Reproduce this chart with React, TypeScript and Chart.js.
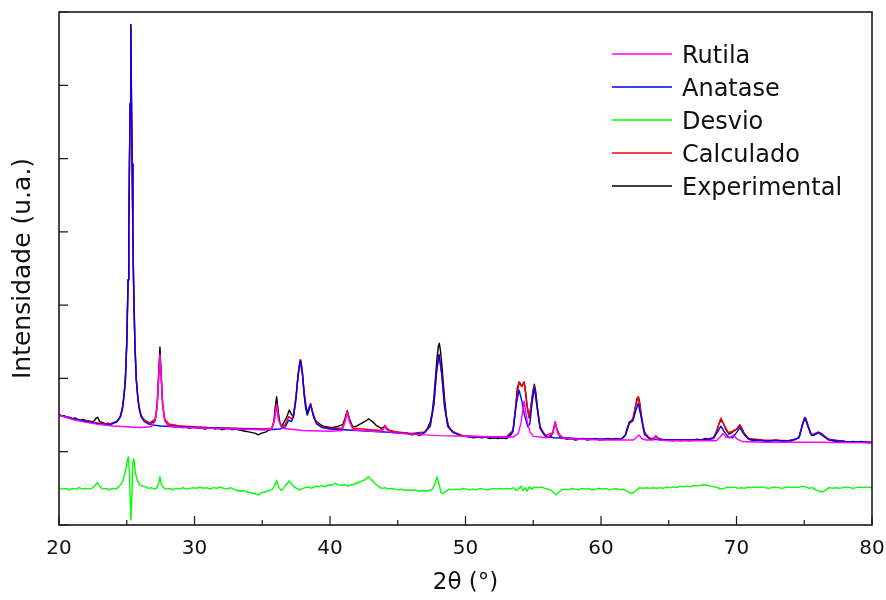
import React, { useEffect, useRef } from "react";
import { Chart, registerables } from "chart.js";

Chart.register(...registerables);

type P = [number, number];

const seriesLabels = ["Rutila", "Anatase", "Desvio", "Calculado", "Experimental"];
const seriesColors = ["#ff00ff", "#0000ff", "#00ff00", "#ff0000", "#000000"];
const xAxisTitle = "2θ (°)";
const yAxisTitle = "Intensidade (u.a.)";
const xRange = [20, 80];
const xStep = 10;
const yRange = [0, 7];
const yStep = 1;

const rutila: P[] = [
  [20, 1.5], [21, 1.44], [22, 1.4], [23, 1.37], [24, 1.35], [25, 1.34], [26, 1.33], [26.8, 1.34],
  [27.1, 1.42], [27.25, 1.62], [27.35, 1.98], [27.45, 2.32], [27.55, 1.98], [27.65, 1.62], [27.8, 1.42],
  [28.1, 1.35], [29, 1.33], [31, 1.32], [33, 1.31], [35, 1.3], [35.7, 1.31], [35.9, 1.43], [36.06, 1.64],
  [36.2, 1.43], [36.45, 1.32], [38, 1.29], [40, 1.28], [40.9, 1.29], [41.1, 1.4], [41.27, 1.53],
  [41.45, 1.4], [41.7, 1.3], [43.7, 1.27], [43.9, 1.3], [44.05, 1.34], [44.2, 1.3], [44.5, 1.26],
  [46, 1.24], [48, 1.22], [50, 1.21], [52, 1.2], [53.5, 1.2], [53.9, 1.25], [54.1, 1.4], [54.33, 1.69],
  [54.55, 1.42], [54.75, 1.27], [55.0, 1.21], [56.0, 1.19], [56.45, 1.25], [56.63, 1.4], [56.8, 1.25],
  [57.2, 1.18], [60, 1.16], [62.4, 1.16], [62.65, 1.2], [62.8, 1.23], [63.0, 1.18], [63.3, 1.16],
  [63.85, 1.16], [64.05, 1.21], [64.25, 1.16], [65, 1.15], [68.5, 1.15], [68.85, 1.21], [69.0, 1.25],
  [69.2, 1.2], [69.5, 1.19], [69.8, 1.23], [70.0, 1.18], [70.4, 1.14], [72, 1.13], [76, 1.13], [80, 1.12],
];

const anatase: P[] = [
  [20, 1.5], [21, 1.45], [22, 1.41], [23, 1.38], [23.8, 1.37], [24.3, 1.41], [24.55, 1.48], [24.7, 1.6],
  [24.8, 1.76], [24.9, 1.98], [25.0, 2.47], [25.1, 3.34], [25.15, 4.0], [25.2, 4.92], [25.25, 5.74],
  [25.3, 6.82], [25.35, 5.74], [25.4, 4.92], [25.45, 4.0], [25.5, 3.34], [25.6, 2.47], [25.7, 1.98],
  [25.8, 1.76], [25.9, 1.6], [26.05, 1.48], [26.3, 1.41], [26.7, 1.37], [27.5, 1.35], [28.5, 1.34],
  [30, 1.33], [32, 1.32], [34, 1.31], [35.5, 1.3], [36.3, 1.31], [36.7, 1.34], [36.95, 1.43],
  [37.15, 1.41], [37.3, 1.47], [37.5, 1.75], [37.65, 2.05], [37.8, 2.24], [37.95, 2.08], [38.1, 1.78],
  [38.3, 1.52], [38.4, 1.56], [38.57, 1.64], [38.75, 1.5], [39.0, 1.38], [39.4, 1.33], [40, 1.31],
  [42, 1.29], [44, 1.27], [46, 1.24], [47.0, 1.26], [47.4, 1.35], [47.67, 1.65], [47.87, 2.1],
  [48.05, 2.32], [48.25, 2.05], [48.45, 1.62], [48.7, 1.34], [49.1, 1.26], [49.8, 1.21], [51, 1.2],
  [53, 1.19], [53.5, 1.27], [53.75, 1.65], [53.95, 1.84], [54.15, 1.7], [54.35, 1.5], [54.6, 1.34],
  [54.75, 1.38], [54.9, 1.65], [55.08, 1.88], [55.3, 1.58], [55.5, 1.32], [55.9, 1.21], [56.5, 1.19],
  [58, 1.18], [60, 1.17], [61.5, 1.17], [61.8, 1.22], [62.1, 1.39], [62.35, 1.42], [62.55, 1.55],
  [62.75, 1.66], [62.95, 1.48], [63.2, 1.24], [63.6, 1.17], [65, 1.16], [67.5, 1.16], [68.3, 1.18],
  [68.6, 1.27], [68.85, 1.35], [69.1, 1.27], [69.4, 1.2], [69.7, 1.19], [70.0, 1.26], [70.25, 1.33],
  [70.5, 1.25], [70.9, 1.17], [72, 1.15], [74, 1.15], [74.6, 1.19], [74.85, 1.35], [75.05, 1.46],
  [75.3, 1.33], [75.55, 1.22], [75.8, 1.24], [76.05, 1.26], [76.35, 1.22], [76.8, 1.16], [78, 1.14],
  [80, 1.13],
];

const calculado: P[] = [
  [20, 1.5], [21, 1.45], [22, 1.41], [23, 1.39], [23.8, 1.38], [24.3, 1.42], [24.55, 1.49], [24.7, 1.61],
  [24.8, 1.77], [24.9, 1.99], [25.0, 2.48], [25.1, 3.35], [25.15, 4.01], [25.2, 4.93], [25.25, 5.75],
  [25.3, 6.8], [25.35, 5.75], [25.4, 4.93], [25.45, 4.01], [25.5, 3.35], [25.6, 2.48], [25.7, 1.99],
  [25.8, 1.78], [25.9, 1.62], [26.05, 1.5], [26.3, 1.43], [26.7, 1.39], [27.1, 1.45], [27.25, 1.65],
  [27.35, 2.0], [27.45, 2.33], [27.55, 2.0], [27.65, 1.65], [27.8, 1.45], [28.1, 1.38], [29, 1.35],
  [31, 1.33], [33, 1.32], [35, 1.31], [35.7, 1.32], [35.9, 1.44], [36.06, 1.65], [36.2, 1.45],
  [36.45, 1.34], [36.7, 1.37], [36.95, 1.48], [37.15, 1.45], [37.3, 1.5], [37.5, 1.77], [37.65, 2.07],
  [37.8, 2.26], [37.95, 2.1], [38.1, 1.8], [38.3, 1.54], [38.4, 1.58], [38.57, 1.66], [38.75, 1.52],
  [39.0, 1.4], [39.4, 1.34], [40, 1.32], [40.9, 1.32], [41.1, 1.42], [41.27, 1.55], [41.45, 1.42],
  [41.7, 1.32], [43.7, 1.29], [43.9, 1.32], [44.05, 1.36], [44.2, 1.32], [44.5, 1.28], [46, 1.25],
  [47.0, 1.27], [47.4, 1.36], [47.67, 1.66], [47.87, 2.11], [48.05, 2.33], [48.25, 2.06], [48.45, 1.63],
  [48.7, 1.35], [49.1, 1.27], [49.8, 1.22], [51, 1.21], [53, 1.2], [53.5, 1.29], [53.75, 1.7],
  [53.95, 1.95], [54.15, 1.89], [54.33, 1.95], [54.55, 1.62], [54.7, 1.47], [54.9, 1.72], [55.08, 1.9],
  [55.3, 1.6], [55.5, 1.34], [55.9, 1.22], [56.45, 1.26], [56.63, 1.41], [56.8, 1.26], [57.2, 1.19],
  [58, 1.18], [60, 1.17], [61.5, 1.17], [61.8, 1.23], [62.1, 1.4], [62.35, 1.45], [62.55, 1.63],
  [62.75, 1.75], [62.95, 1.53], [63.2, 1.27], [63.6, 1.18], [63.85, 1.17], [64.05, 1.22], [64.25, 1.17],
  [65, 1.16], [67.5, 1.16], [68.3, 1.19], [68.6, 1.32], [68.85, 1.46], [69.1, 1.36], [69.4, 1.26],
  [69.7, 1.28], [70.0, 1.31], [70.25, 1.37], [70.5, 1.27], [70.9, 1.18], [72, 1.16], [74, 1.15],
  [74.6, 1.19], [74.85, 1.36], [75.05, 1.47], [75.3, 1.34], [75.55, 1.23], [75.8, 1.25], [76.05, 1.27],
  [76.35, 1.23], [76.8, 1.17], [78, 1.14], [80, 1.13],
];

const experimental: P[] = [
  [20, 1.51], [20.2, 1.49], [20.4, 1.49], [20.6, 1.47], [20.8, 1.47], [21.0, 1.45], [21.2, 1.46],
  [21.4, 1.44], [21.6, 1.43], [21.8, 1.44], [22.0, 1.42], [22.2, 1.42], [22.4, 1.41], [22.6, 1.42],
  [22.75, 1.46], [22.85, 1.47], [23.0, 1.41], [23.2, 1.4], [23.4, 1.38], [23.6, 1.39], [23.8, 1.38],
  [24.0, 1.39], [24.2, 1.4], [24.35, 1.43], [24.5, 1.47], [24.6, 1.54], [24.7, 1.63], [24.8, 1.78],
  [24.9, 2.0], [25.0, 2.49], [25.1, 3.35], [25.15, 4.01], [25.2, 4.93], [25.25, 5.76], [25.3, 6.83],
  [25.35, 5.76], [25.4, 4.93], [25.45, 4.01], [25.5, 3.36], [25.6, 2.5], [25.7, 2.01], [25.8, 1.79],
  [25.9, 1.62], [26.05, 1.5], [26.2, 1.45], [26.4, 1.42], [26.6, 1.4], [26.8, 1.39], [27.0, 1.41],
  [27.15, 1.47], [27.25, 1.66], [27.35, 2.05], [27.45, 2.43], [27.55, 2.02], [27.65, 1.64], [27.8, 1.44],
  [28.0, 1.37], [28.2, 1.36], [28.4, 1.35], [28.6, 1.36], [28.8, 1.34], [29.0, 1.35], [29.2, 1.33],
  [29.4, 1.34], [29.6, 1.32], [29.8, 1.33], [30.0, 1.34], [30.25, 1.32], [30.5, 1.33], [30.75, 1.31],
  [31.0, 1.32], [31.25, 1.33], [31.5, 1.31], [31.75, 1.32], [32.0, 1.3], [32.25, 1.31], [32.5, 1.32],
  [32.75, 1.3], [33.0, 1.31], [33.25, 1.3], [33.5, 1.29], [33.75, 1.28], [34.0, 1.27], [34.25, 1.26],
  [34.5, 1.25], [34.7, 1.23], [34.9, 1.25], [35.1, 1.26], [35.3, 1.27], [35.5, 1.3], [35.7, 1.31],
  [35.85, 1.4], [35.95, 1.6], [36.06, 1.75], [36.18, 1.55], [36.3, 1.39], [36.45, 1.35], [36.6, 1.4],
  [36.8, 1.47], [37.0, 1.57], [37.15, 1.51], [37.3, 1.48], [37.45, 1.66], [37.6, 1.95], [37.72, 2.15],
  [37.84, 2.25], [37.96, 2.1], [38.08, 1.8], [38.2, 1.6], [38.33, 1.5], [38.45, 1.57], [38.57, 1.65],
  [38.7, 1.55], [38.82, 1.46], [39.0, 1.41], [39.15, 1.39], [39.3, 1.37], [39.5, 1.35], [39.75, 1.34],
  [40.0, 1.33], [40.25, 1.33], [40.5, 1.34], [40.75, 1.36], [40.95, 1.37], [41.1, 1.45], [41.27, 1.56],
  [41.45, 1.44], [41.65, 1.35], [41.85, 1.34], [42.05, 1.36], [42.25, 1.38], [42.45, 1.4], [42.65, 1.42],
  [42.85, 1.45], [43.0, 1.43], [43.2, 1.4], [43.4, 1.36], [43.6, 1.34], [43.8, 1.32], [44.0, 1.34],
  [44.15, 1.33], [44.35, 1.29], [44.6, 1.28], [44.85, 1.27], [45.1, 1.26], [45.35, 1.25], [45.6, 1.26],
  [45.85, 1.24], [46.1, 1.23], [46.35, 1.24], [46.6, 1.22], [46.85, 1.24], [47.0, 1.27], [47.2, 1.32],
  [47.4, 1.41], [47.55, 1.55], [47.67, 1.75], [47.8, 2.05], [47.9, 2.28], [48.0, 2.44], [48.07, 2.48],
  [48.15, 2.38], [48.27, 2.16], [48.37, 1.92], [48.46, 1.71], [48.6, 1.48], [48.73, 1.36], [48.9, 1.3],
  [49.1, 1.27], [49.4, 1.24], [49.7, 1.22], [50.0, 1.21], [50.3, 1.2], [50.6, 1.19], [50.9, 1.2],
  [51.2, 1.19], [51.5, 1.2], [51.8, 1.18], [52.1, 1.19], [52.4, 1.18], [52.7, 1.19], [53.0, 1.18],
  [53.2, 1.2], [53.4, 1.24], [53.55, 1.34], [53.7, 1.6], [53.82, 1.87], [53.97, 1.95], [54.16, 1.89],
  [54.33, 1.95], [54.45, 1.8], [54.55, 1.62], [54.7, 1.46], [54.82, 1.58], [54.95, 1.8], [55.08, 1.92],
  [55.2, 1.8], [55.32, 1.58], [55.5, 1.35], [55.7, 1.26], [55.9, 1.22], [56.1, 1.2], [56.3, 1.21],
  [56.45, 1.26], [56.6, 1.4], [56.75, 1.31], [56.95, 1.21], [57.2, 1.19], [57.5, 1.17], [57.8, 1.18],
  [58.1, 1.16], [58.4, 1.17], [58.7, 1.18], [59.0, 1.16], [59.3, 1.17], [59.6, 1.18], [59.9, 1.16],
  [60.2, 1.17], [60.5, 1.18], [60.8, 1.17], [61.1, 1.18], [61.4, 1.17], [61.6, 1.19], [61.8, 1.23],
  [61.95, 1.33], [62.1, 1.41], [62.25, 1.42], [62.4, 1.47], [62.55, 1.62], [62.65, 1.72], [62.75, 1.75],
  [62.85, 1.68], [62.95, 1.53], [63.1, 1.35], [63.25, 1.25], [63.45, 1.2], [63.7, 1.18], [63.9, 1.18],
  [64.05, 1.21], [64.2, 1.19], [64.4, 1.17], [64.7, 1.16], [65.0, 1.16], [65.3, 1.15], [65.6, 1.16],
  [65.9, 1.15], [66.2, 1.16], [66.5, 1.15], [66.8, 1.16], [67.1, 1.17], [67.4, 1.16], [67.7, 1.18],
  [68.0, 1.17], [68.3, 1.19], [68.5, 1.25], [68.7, 1.38], [68.85, 1.43], [69.0, 1.4], [69.2, 1.31],
  [69.45, 1.24], [69.65, 1.26], [69.85, 1.29], [70.05, 1.31], [70.25, 1.36], [70.4, 1.32], [70.6, 1.23],
  [70.85, 1.18], [71.1, 1.16], [71.4, 1.15], [71.7, 1.16], [72.0, 1.15], [72.3, 1.14], [72.6, 1.15],
  [72.9, 1.16], [73.2, 1.15], [73.5, 1.14], [73.8, 1.15], [74.1, 1.16], [74.4, 1.17], [74.65, 1.21],
  [74.85, 1.36], [75.0, 1.45], [75.1, 1.46], [75.25, 1.38], [75.45, 1.25], [75.65, 1.22], [75.85, 1.24],
  [76.05, 1.26], [76.25, 1.25], [76.5, 1.21], [76.8, 1.17], [77.1, 1.15], [77.4, 1.14], [77.7, 1.15],
  [78.0, 1.14], [78.3, 1.13], [78.6, 1.14], [78.9, 1.13], [79.2, 1.14], [79.5, 1.13], [79.8, 1.12],
  [80.0, 1.13],
];

const desvio: P[] = [
  [20, 0.5], [20.25, 0.49], [20.5, 0.5], [20.75, 0.48], [21.0, 0.5], [21.25, 0.49], [21.5, 0.51],
  [21.75, 0.49], [22.0, 0.5], [22.25, 0.49], [22.5, 0.51], [22.7, 0.55], [22.85, 0.58], [23.0, 0.53],
  [23.2, 0.49], [23.45, 0.5], [23.7, 0.48], [23.95, 0.5], [24.2, 0.49], [24.4, 0.52], [24.6, 0.56],
  [24.75, 0.62], [24.9, 0.74], [25.05, 0.88], [25.12, 0.93], [25.2, 0.7], [25.3, 0.07], [25.38, 0.4],
  [25.45, 0.85], [25.52, 0.9], [25.62, 0.75], [25.72, 0.64], [25.85, 0.58], [26.0, 0.54], [26.2, 0.53],
  [26.4, 0.52], [26.6, 0.5], [26.8, 0.51], [27.0, 0.49], [27.2, 0.5], [27.35, 0.56], [27.45, 0.66],
  [27.55, 0.55], [27.7, 0.51], [27.9, 0.49], [28.15, 0.5], [28.4, 0.48], [28.65, 0.5], [28.9, 0.49],
  [29.15, 0.51], [29.4, 0.49], [29.65, 0.5], [29.9, 0.51], [30.15, 0.5], [30.4, 0.52], [30.65, 0.5],
  [30.9, 0.51], [31.15, 0.49], [31.4, 0.51], [31.65, 0.5], [31.9, 0.52], [32.15, 0.5], [32.4, 0.49],
  [32.65, 0.51], [32.9, 0.49], [33.15, 0.47], [33.4, 0.46], [33.65, 0.47], [33.9, 0.45], [34.15, 0.44],
  [34.4, 0.43], [34.7, 0.41], [34.95, 0.44], [35.2, 0.45], [35.45, 0.47], [35.7, 0.48], [35.9, 0.53],
  [36.06, 0.61], [36.2, 0.52], [36.4, 0.47], [36.6, 0.51], [36.8, 0.56], [37.0, 0.6], [37.2, 0.55],
  [37.45, 0.51], [37.7, 0.48], [37.9, 0.49], [38.15, 0.51], [38.4, 0.52], [38.65, 0.5], [38.9, 0.53],
  [39.15, 0.52], [39.4, 0.54], [39.65, 0.52], [39.9, 0.55], [40.15, 0.54], [40.35, 0.57], [40.6, 0.55],
  [40.85, 0.54], [41.1, 0.55], [41.35, 0.53], [41.6, 0.55], [41.85, 0.56], [42.1, 0.58], [42.35, 0.6],
  [42.6, 0.62], [42.85, 0.66], [43.05, 0.62], [43.3, 0.57], [43.55, 0.53], [43.8, 0.5], [44.05, 0.51],
  [44.3, 0.49], [44.55, 0.5], [44.8, 0.49], [45.05, 0.48], [45.3, 0.49], [45.55, 0.47], [45.8, 0.48],
  [46.05, 0.47], [46.3, 0.48], [46.55, 0.46], [46.8, 0.47], [47.05, 0.46], [47.3, 0.47], [47.55, 0.49],
  [47.75, 0.56], [47.9, 0.66], [48.05, 0.55], [48.2, 0.44], [48.35, 0.43], [48.55, 0.46], [48.8, 0.49],
  [49.05, 0.48], [49.3, 0.49], [49.55, 0.48], [49.8, 0.5], [50.05, 0.49], [50.3, 0.48], [50.55, 0.49],
  [50.8, 0.48], [51.05, 0.5], [51.3, 0.49], [51.55, 0.48], [51.8, 0.49], [52.05, 0.5], [52.3, 0.49],
  [52.55, 0.5], [52.8, 0.49], [53.05, 0.5], [53.3, 0.49], [53.55, 0.51], [53.75, 0.47], [53.95, 0.5],
  [54.1, 0.53], [54.25, 0.47], [54.4, 0.51], [54.55, 0.46], [54.7, 0.52], [54.9, 0.49], [55.1, 0.52],
  [55.35, 0.51], [55.6, 0.52], [55.85, 0.5], [56.1, 0.49], [56.35, 0.47], [56.55, 0.43], [56.7, 0.41],
  [56.9, 0.45], [57.1, 0.48], [57.35, 0.49], [57.6, 0.48], [57.85, 0.5], [58.1, 0.49], [58.35, 0.48],
  [58.6, 0.5], [58.85, 0.49], [59.1, 0.5], [59.35, 0.48], [59.6, 0.49], [59.85, 0.5], [60.1, 0.49],
  [60.35, 0.5], [60.6, 0.48], [60.85, 0.49], [61.1, 0.5], [61.35, 0.48], [61.6, 0.49], [61.85, 0.47],
  [62.05, 0.45], [62.25, 0.43], [62.45, 0.45], [62.65, 0.48], [62.85, 0.51], [63.1, 0.5], [63.35, 0.51],
  [63.6, 0.5], [63.85, 0.51], [64.1, 0.5], [64.35, 0.51], [64.6, 0.5], [64.85, 0.52], [65.1, 0.51],
  [65.35, 0.52], [65.6, 0.51], [65.85, 0.53], [66.1, 0.52], [66.35, 0.53], [66.6, 0.52], [66.85, 0.54],
  [67.1, 0.53], [67.35, 0.54], [67.6, 0.55], [67.85, 0.54], [68.1, 0.53], [68.35, 0.52], [68.6, 0.51],
  [68.85, 0.49], [69.1, 0.5], [69.35, 0.52], [69.6, 0.51], [69.85, 0.52], [70.1, 0.5], [70.35, 0.51],
  [70.6, 0.5], [70.85, 0.52], [71.1, 0.51], [71.35, 0.52], [71.6, 0.51], [71.85, 0.52], [72.1, 0.51],
  [72.35, 0.5], [72.6, 0.51], [72.85, 0.52], [73.1, 0.51], [73.35, 0.5], [73.6, 0.51], [73.85, 0.52],
  [74.1, 0.51], [74.35, 0.52], [74.6, 0.51], [74.85, 0.53], [75.1, 0.52], [75.35, 0.5], [75.6, 0.51],
  [75.85, 0.48], [76.1, 0.46], [76.35, 0.45], [76.6, 0.48], [76.85, 0.51], [77.1, 0.5], [77.35, 0.51],
  [77.6, 0.5], [77.85, 0.51], [78.1, 0.52], [78.35, 0.51], [78.6, 0.5], [78.85, 0.51], [79.1, 0.52],
  [79.35, 0.51], [79.6, 0.52], [79.85, 0.51], [80, 0.52],
];

const seriesData: P[][] = [rutila, anatase, desvio, calculado, experimental];

const FONT = "'DejaVu Sans', Verdana, sans-serif";

const decorPlugin = {
  id: "decor",
  afterDatasetsDraw(chart: any) {
    const { ctx, chartArea: a, scales } = chart;
    const xs = scales.x;
    const ys = scales.y;
    ctx.save();
    ctx.strokeStyle = "#1a1a1a";
    ctx.lineWidth = 1.6;
    ctx.strokeRect(a.left, a.top, a.right - a.left, a.bottom - a.top);

    ctx.lineWidth = 1.2;
    ctx.beginPath();
    const xt = xs.ticks;
    for (let i = 0; i < xt.length; i++) {
      const px = xs.getPixelForValue(xt[i].value);
      ctx.moveTo(px, a.bottom);
      ctx.lineTo(px, a.bottom - 9);
      if (i < xt.length - 1) {
        const mv = (xt[i].value + xt[i + 1].value) / 2;
        const mp = xs.getPixelForValue(mv);
        ctx.moveTo(mp, a.bottom);
        ctx.lineTo(mp, a.bottom - 5);
      }
    }
    ys.ticks.forEach((t: any) => {
      const py = ys.getPixelForValue(t.value);
      ctx.moveTo(a.left, py);
      ctx.lineTo(a.left + 9, py);
    });
    ctx.stroke();

    // axis titles
    ctx.fillStyle = "#111";
    ctx.textAlign = "center";
    ctx.textBaseline = "middle";
    ctx.font = `23px ${FONT}`;
    ctx.fillText(xAxisTitle, (a.left + a.right) / 2, 583);
    ctx.save();
    ctx.translate(23, (a.top + a.bottom) / 2);
    ctx.rotate(-Math.PI / 2);
    ctx.font = `25px ${FONT}`;
    ctx.fillText(yAxisTitle, 0, 0);
    ctx.restore();

    // legend
    ctx.font = `24px ${FONT}`;
    ctx.textAlign = "left";
    ctx.textBaseline = "alphabetic";
    seriesLabels.forEach((label, i) => {
      const ly = 54 + i * 33;
      ctx.strokeStyle = seriesColors[i];
      ctx.lineWidth = 1.3;
      ctx.beginPath();
      ctx.moveTo(612, ly);
      ctx.lineTo(672, ly);
      ctx.stroke();
      ctx.fillStyle = "#111";
      ctx.fillText(label, 682, ly + 9);
    });
    ctx.restore();
  },
};

export default function App() {
  const ref = useRef<HTMLCanvasElement>(null);
  useEffect(() => {
    if (!ref.current) return;
    const chart = new Chart(ref.current, {
      type: "line",
      data: {
        datasets: seriesLabels.map((label, i) => ({
          label,
          data: seriesData[i].map(([x, y]) => ({ x, y })),
          borderColor: seriesColors[i],
          backgroundColor: seriesColors[i],
          borderWidth: 1.4,
          borderJoinStyle: "round",
          borderCapStyle: "round",
          pointRadius: 0,
          tension: 0,
          fill: false,
        })),
      },
      options: {
        animation: false,
        responsive: true,
        maintainAspectRatio: false,
        layout: { padding: { left: 0, right: 14, top: 12, bottom: 0 } },
        plugins: { legend: { display: false }, tooltip: { enabled: false } },
        scales: {
          x: {
            type: "linear",
            min: xRange[0],
            max: xRange[1],
            grid: { display: false, drawTicks: false },
            border: { display: false },
            ticks: {
              stepSize: xStep,
              padding: 12,
              color: "#111",
              font: { family: FONT, size: 20 },
              maxRotation: 0,
            },
            afterFit: (s: any) => {
              s.height = 75;
              s.paddingLeft = 0;
              s.paddingRight = 0;
            },
          },
          y: {
            type: "linear",
            min: yRange[0],
            max: yRange[1],
            grid: { display: false, drawTicks: false },
            border: { display: false },
            ticks: { stepSize: yStep, display: false },
            afterFit: (s: any) => {
              s.width = 59;
              s.paddingTop = 0;
              s.paddingBottom = 0;
            },
          },
        },
      },
      plugins: [decorPlugin],
    });
    return () => chart.destroy();
  }, []);
  return (
    <div style={{ position: "absolute", left: 0, top: 0, width: 886, height: 600, background: "#fff" }}>
      <canvas ref={ref} />
    </div>
  );
}
